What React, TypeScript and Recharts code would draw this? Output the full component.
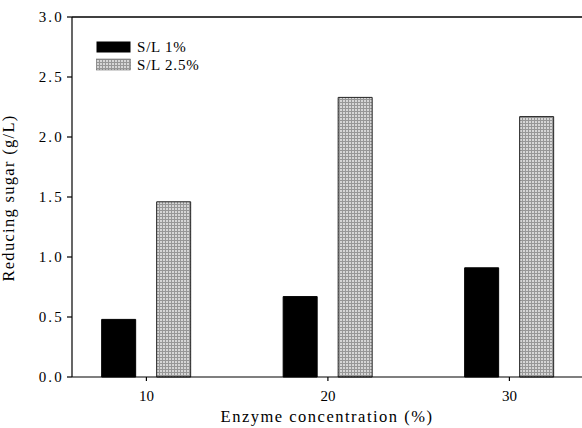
import React from "react";
import { BarChart, Bar, XAxis, YAxis, ReferenceLine } from "recharts";

const concentrations = [10, 20, 30];
const sl1 = [0.48, 0.67, 0.91];
const sl25 = [1.46, 2.33, 2.17];
const yTicks = [0, 0.5, 1.0, 1.5, 2.0, 2.5, 3.0];
const xTicks = [10, 20, 30];
const seriesNames = ["S/L 1%", "S/L 2.5%"];

const data = concentrations.map((c, i) => ({ conc: c, a: sl1[i], b: sl25[i] }));

const FONT = '"Liberation Serif", "DejaVu Serif", serif';

const Mesh = ({ id }: { id: string }) => (
  <pattern id={id} width={3} height={3} patternUnits="userSpaceOnUse">
    <rect width={3} height={3} fill="#d6d6d6" />
    <rect width={3} height={1} fill="#979797" />
    <rect width={1} height={3} fill="#979797" />
  </pattern>
);

const LegendBox = () => (
  <svg width={140} height={45} style={{ position: "absolute", left: 90, top: 35, fontFamily: FONT }}>
    <defs>
      <Mesh id="meshLegend" />
    </defs>
    <rect x={6.5} y={6.5} width={34} height={11} fill="#000" />
    <text x={47} y={17} style={{ fontFamily: FONT }} fontSize={15} letterSpacing={0.8} fill="#000">
      {seriesNames[0]}
    </text>
    <rect x={6.5} y={24} width={34} height={11} fill="url(#meshLegend)" stroke="#555" strokeWidth={0.5} />
    <text x={47} y={35} style={{ fontFamily: FONT }} fontSize={15} letterSpacing={0.8} fill="#000">
      {seriesNames[1]}
    </text>
  </svg>
);

export default function App() {
  return (
    <div style={{ position: "absolute", left: 0, top: 0, width: 582, height: 428, background: "#fff", fontFamily: FONT }}>
      <BarChart
        width={582}
        height={428}
        data={data}
        margin={{ top: 17, right: 0, bottom: 0, left: 0 }}
        barGap={21}
        barSize={34}
        style={{ fontFamily: FONT }}
      >
        <defs>
          <Mesh id="mesh" />
        </defs>
        <XAxis
          dataKey="conc"
          type="number"
          domain={[5.9, 34]}
          ticks={xTicks}
          allowDataOverflow
          tickSize={4}
          tickMargin={9}
          height={51}
          stroke="#000"
          strokeWidth={1.2}
          tick={{ fill: "#000", fontSize: 15, style: { fontFamily: FONT } }}
          label={{
            value: "Enzyme concentration (%)",
            position: "insideBottom",
            offset: 6,
            fill: "#000",
            fontSize: 16.5,
            letterSpacing: 1.5,
            style: { fontFamily: FONT },
          }}
        />
        <YAxis
          type="number"
          domain={[0, 3]}
          ticks={yTicks}
          width={72}
          tickSize={5}
          tickMargin={3}
          stroke="#000"
          strokeWidth={1.2}
          tickFormatter={(v: number) => v.toFixed(1)}
          tick={{ fill: "#000", fontSize: 15, letterSpacing: 2.2, style: { fontFamily: FONT } }}
          label={{
            value: "Reducing sugar (g/L)",
            angle: -90,
            position: "insideLeft",
            offset: 8,
            dy: 1,
            fill: "#000",
            fontSize: 16.5,
            letterSpacing: 1.3,
            style: { textAnchor: "middle", fontFamily: FONT },
          }}
        />
        <ReferenceLine y={3} stroke="#000" strokeWidth={1.5} />
        <Bar dataKey="a" name={seriesNames[0]} fill="#000" stroke="#000" isAnimationActive={false} />
        <Bar dataKey="b" name={seriesNames[1]} fill="url(#mesh)" stroke="#222" strokeWidth={1} isAnimationActive={false} />
      </BarChart>
      <LegendBox />
    </div>
  );
}
